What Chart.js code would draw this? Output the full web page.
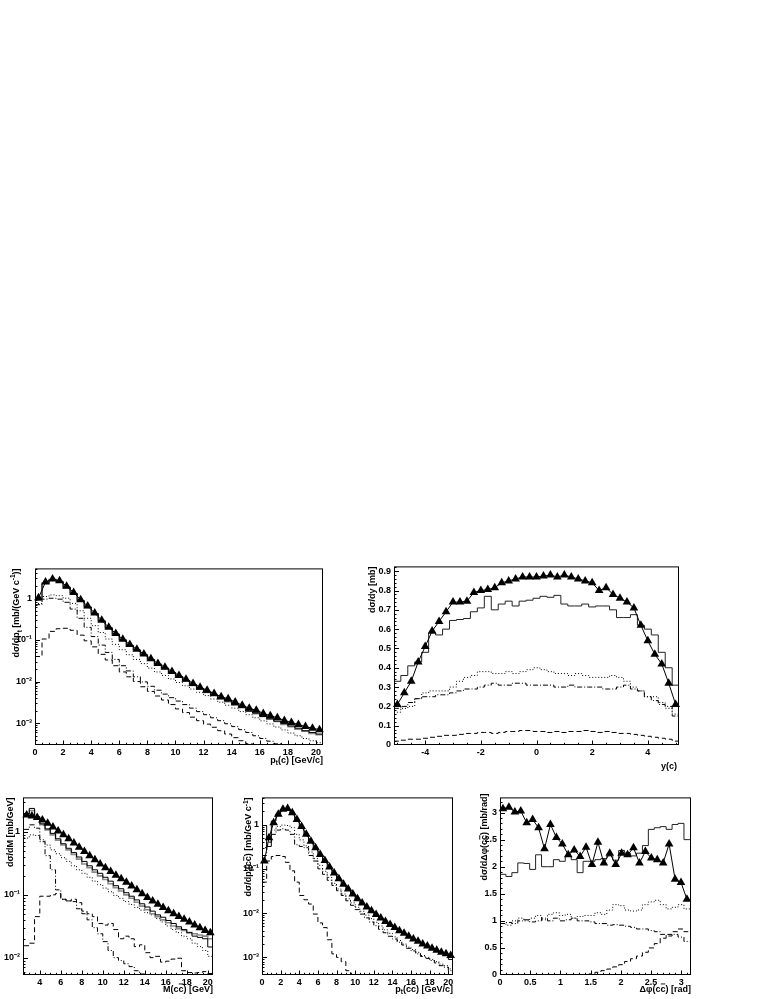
<!DOCTYPE html>
<html><head><meta charset="utf-8">
<script src="https://cdn.jsdelivr.net/npm/chart.js@4.4.1/dist/chart.umd.min.js"></script>
<style>
html,body{margin:0;padding:0;background:#fff;}
body{width:772px;height:999px;position:relative;overflow:hidden;}
canvas{position:absolute;}
</style></head><body>
<canvas id="c1"></canvas><canvas id="c2"></canvas><canvas id="c3"></canvas><canvas id="c4"></canvas><canvas id="c5"></canvas>
<script>
// ---------------- DATA ----------------
// Panel 1: d sigma / d pt(c), bins of 0.5 GeV/c from 0
const p1BinStart = 0, p1BinWidth = 0.5;
const p1Tri = [1.02,2.44,2.90,2.62,1.94,1.37,0.918,0.648,0.441,0.295,0.201,0.142,0.104,0.077,0.0593,0.0457,0.0352,0.0271,0.0220,0.0175,0.0140,0.0113,0.0090,0.0073,0.00615,0.00516,0.00434,0.00384,0.00322,0.00271,0.00228,0.00205,0.00172,0.00152,0.00135,0.00117,0.00104,0.00093,0.00083,0.00076,0.00070];
const p1Solid = [0.92,2.25,2.75,2.5,1.85,1.3,0.88,0.62,0.43,0.285,0.195,0.138,0.1,0.074,0.057,0.044,0.034,0.026,0.021,0.0165,0.0132,0.0106,0.0084,0.0067,0.0056,0.0047,0.0039,0.0034,0.0028,0.0024,0.00195,0.00175,0.00145,0.00128,0.00112,0.00098,0.00086,0.00076,0.00066,0.0006,0.00055];
const p1Grey = [0.9,2.3,2.8,2.45,1.8,1.28,0.86,0.6,0.42,0.28,0.19,0.135,0.098,0.072,0.056,0.043,0.033,0.0255,0.0205,0.016,0.0128,0.0102,0.0081,0.0066,0.0055,0.0046,0.0038,0.0033,0.0027,0.00235,0.00195,0.0017,0.00145,0.00125,0.0011,0.00094,0.00082,0.00072,0.00064,0.00057,0.00053];
const p1Dot = [0.75,1.1,1.2,1.15,1.0,0.75,0.5,0.33,0.22,0.15,0.105,0.078,0.058,0.044,0.034,0.027,0.021,0.017,0.014,0.0115,0.0095,0.0079,0.0066,0.0055,0.0046,0.0038,0.0032,0.0027,0.0023,0.0019,0.0016,0.00135,0.00114,0.00096,0.00081,0.00069,0.00058,0.0005,0.00043,0.00038,0.00034];
const p1DashDot = [0.7,0.95,1.0,0.95,0.8,0.55,0.33,0.2,0.12,0.075,0.05,0.034,0.024,0.018,0.013,0.0098,0.0077,0.0062,0.005,0.0041,0.0034,0.0028,0.0023,0.0019,0.0016,0.00135,0.00115,0.00097,0.00083,0.0007,0.0006,0.0005,0.00043,0.00037,0.00032,0.00028,0.00025,0.00022,0.0002,0.00018,0.00016];
const p1Dash = [0.04,0.105,0.16,0.185,0.19,0.17,0.13,0.095,0.068,0.045,0.033,0.024,0.017,0.013,0.01,0.0075,0.0058,0.0045,0.0036,0.0028,0.0022,0.0018,0.0014,0.00115,0.00095,0.0008,0.00066,0.00055,0.00045,0.00038,0.00032,0.00027,0.00023,0.0002,0.00017,0.00015,0.00013,0.00011,0.0001,0.00009,0.00008];
const p1XTicks = [0,2,4,6,8,10,12,14,16,18,20];
const p1YTicks = [1e-3,1e-2,1e-1,1];

// Panel 2: d sigma / dy, bins of 0.25 from -5.125
const p2BinStart = -5.125, p2BinWidth = 0.25;
const p2Tri = [0.21,0.27,0.33,0.43,0.51,0.59,0.64,0.69,0.74,0.74,0.745,0.79,0.80,0.805,0.815,0.84,0.85,0.86,0.87,0.87,0.87,0.875,0.88,0.87,0.88,0.87,0.86,0.85,0.84,0.80,0.815,0.78,0.76,0.74,0.71,0.62,0.54,0.47,0.42,0.32,0.21];
const p2Solid = [0.33,0.36,0.41,0.43,0.48,0.58,0.57,0.60,0.645,0.65,0.655,0.69,0.71,0.77,0.70,0.73,0.745,0.72,0.745,0.75,0.76,0.77,0.765,0.775,0.73,0.72,0.72,0.73,0.715,0.72,0.72,0.70,0.66,0.66,0.675,0.62,0.60,0.57,0.48,0.40,0.31];
const p2Dot = [0.17,0.19,0.2,0.24,0.27,0.28,0.28,0.28,0.30,0.33,0.35,0.36,0.38,0.38,0.37,0.37,0.38,0.37,0.38,0.39,0.40,0.39,0.38,0.37,0.37,0.36,0.37,0.36,0.35,0.35,0.35,0.36,0.35,0.33,0.30,0.28,0.25,0.25,0.22,0.19,0.16];
const p2DashDot = [0.19,0.2,0.22,0.24,0.25,0.25,0.26,0.26,0.27,0.28,0.29,0.29,0.30,0.31,0.32,0.31,0.31,0.32,0.32,0.31,0.31,0.31,0.31,0.30,0.30,0.31,0.30,0.30,0.30,0.30,0.29,0.29,0.30,0.31,0.29,0.28,0.25,0.23,0.21,0.2,0.15];
const p2Dash = [0.02,0.025,0.03,0.03,0.035,0.04,0.045,0.05,0.05,0.055,0.06,0.06,0.065,0.065,0.06,0.065,0.07,0.07,0.075,0.075,0.07,0.07,0.065,0.07,0.065,0.07,0.07,0.075,0.07,0.065,0.07,0.065,0.06,0.06,0.055,0.05,0.045,0.04,0.035,0.03,0.02];
const p2XTicks = [-4,-2,0,2,4];
const p2YTicks = [0,0.1,0.2,0.3,0.4,0.5,0.6,0.7,0.8,0.9];

// Panel 3: d sigma / dM(c cbar), bins of 0.5 GeV from 2.5
const p3BinStart = 2.5, p3BinWidth = 0.5;
const p3Tri = [1.87,1.8,1.7,1.55,1.38,1.2,1.04,0.9,0.78,0.67,0.57,0.49,0.42,0.36,0.31,0.27,0.235,0.205,0.18,0.158,0.138,0.12,0.104,0.091,0.08,0.071,0.063,0.056,0.05,0.045,0.041,0.037,0.033,0.03,0.027,0.025];
const p3Solid = [1.95,2.37,1.76,1.35,1.12,0.95,0.78,0.65,0.55,0.47,0.4,0.34,0.29,0.25,0.22,0.19,0.165,0.14,0.125,0.108,0.095,0.083,0.072,0.064,0.055,0.048,0.044,0.039,0.035,0.031,0.028,0.025,0.022,0.021,0.02,0.0148];
const p3Grey = [1.8,2.2,1.65,1.3,1.08,0.9,0.74,0.62,0.52,0.44,0.37,0.31,0.27,0.23,0.2,0.175,0.15,0.13,0.115,0.1,0.088,0.076,0.066,0.058,0.05,0.045,0.04,0.036,0.032,0.029,0.027,0.025,0.024,0.023,0.022,0.02];
const p3Dot = [0.8,0.9,0.88,0.75,0.62,0.52,0.45,0.39,0.34,0.29,0.25,0.22,0.19,0.165,0.145,0.128,0.112,0.098,0.088,0.078,0.07,0.063,0.057,0.052,0.048,0.042,0.037,0.032,0.028,0.025,0.022,0.02,0.017,0.015,0.013,0.0105];
const p3DashDot = [1.1,1.3,1.15,0.7,0.42,0.25,0.12,0.085,0.08,0.078,0.06,0.05,0.04,0.03,0.024,0.018,0.013,0.01,0.009,0.008,0.0072,0.0062,0.0055,0.005,0.0046,0.0043,0.004,0.0038,0.0036,0.0034,0.0032,0.003,0.0029,0.0028,0.0027,0.0026];
const p3Dash = [0.0155,0.017,0.045,0.095,0.095,0.1,0.105,0.085,0.08,0.085,0.075,0.055,0.05,0.045,0.035,0.033,0.035,0.028,0.02,0.022,0.02,0.015,0.016,0.012,0.01,0.0105,0.0085,0.0088,0.0095,0.0098,0.0062,0.0058,0.0057,0.0058,0.006,0.0056];
const p3XTicks = [4,6,8,10,12,14,16,18,20];
const p3YTicks = [1e-2,1e-1,1];

// Panel 4: d sigma / d pt(c cbar), bins of 0.5 GeV/c from 0
const p4BinStart = 0, p4BinWidth = 0.5;
const p4Tri = [0.15,0.5,1.1,1.7,2.2,2.3,1.85,1.3,0.9,0.6,0.42,0.3,0.21,0.155,0.11,0.08,0.06,0.045,0.035,0.027,0.021,0.017,0.0138,0.0113,0.0093,0.0078,0.0065,0.0055,0.0047,0.004,0.0035,0.003,0.0026,0.0023,0.002,0.0018,0.0016,0.00145,0.0013,0.0012,0.0011];
const p4Solid = [0.95,0.32,1.2,1.75,2.15,2.2,1.8,1.25,0.86,0.58,0.4,0.29,0.2,0.148,0.105,0.077,0.057,0.043,0.033,0.026,0.02,0.016,0.013,0.0107,0.0088,0.0074,0.0062,0.0052,0.0045,0.0038,0.0033,0.0029,0.0025,0.0022,0.0019,0.0017,0.0015,0.0014,0.00125,0.0012,0.0009];
const p4Dot = [0.3,0.5,0.75,0.9,0.97,0.95,0.85,0.6,0.45,0.33,0.24,0.17,0.12,0.088,0.064,0.047,0.035,0.027,0.021,0.017,0.0135,0.011,0.009,0.0075,0.0062,0.0051,0.0042,0.0035,0.0029,0.0024,0.002,0.0017,0.0015,0.0013,0.0011,0.001,0.0009,0.0008,0.0007,0.00065,0.00055];
const p4DashDot = [0.2,0.4,0.6,0.75,0.8,0.75,0.6,0.35,0.32,0.3,0.2,0.15,0.1,0.075,0.055,0.042,0.032,0.025,0.019,0.015,0.012,0.0095,0.0078,0.0063,0.0052,0.0043,0.0036,0.003,0.0026,0.0022,0.0019,0.0016,0.0014,0.0012,0.00105,0.00095,0.00085,0.00075,0.00065,0.0006,0.0005];
const p4Dash = [0.05,0.15,0.19,0.2,0.19,0.14,0.09,0.05,0.025,0.02,0.016,0.0095,0.006,0.0047,0.0025,0.0012,0.001,0.0008,0.0005,0.0003];
const p4XTicks = [0,2,4,6,8,10,12,14,16,18,20];
const p4YTicks = [1e-3,1e-2,1e-1,1];

// Panel 5: d sigma / d delta-phi(c cbar), 32 bins over [0, pi]
const p5BinStart = 0, p5BinWidth = Math.PI / 32;
const p5Tri = [3.07,3.1,3.01,3.03,2.81,2.87,2.72,2.33,2.78,2.54,2.42,2.22,2.31,2.19,2.36,2.04,2.45,2.07,2.25,2.04,2.25,2.22,2.35,2.07,2.28,2.16,2.13,2.07,2.42,1.77,1.71,1.4];
const p5Solid = [1.86,1.82,1.89,2.07,2.06,1.95,2.22,2.0,2.0,2.13,2.1,2.19,2.13,1.89,2.1,2.1,2.13,2.15,2.2,2.12,2.3,2.25,2.2,2.25,2.39,2.69,2.72,2.74,2.69,2.78,2.8,2.5];
const p5Dot = [0.95,0.92,1.0,1.05,1.0,1.05,1.1,1.02,1.12,1.15,1.1,1.12,1.05,1.08,1.1,1.1,1.15,1.12,1.2,1.3,1.28,1.2,1.18,1.2,1.3,1.35,1.38,1.3,1.22,1.25,1.3,1.22];
const p5DashDot = [0.95,0.97,0.95,1.0,1.02,0.98,1.0,1.05,1.0,1.05,1.0,1.02,1.05,1.0,1.0,0.98,0.95,0.95,0.92,0.93,0.92,0.9,0.88,0.85,0.85,0.82,0.8,0.75,0.72,0.75,0.7,0.62];
const p5Dash = [0,0,0,0,0,0,0,0,0,0,0,0,0,0,0.01,0.02,0.05,0.08,0.11,0.15,0.19,0.25,0.3,0.35,0.42,0.5,0.58,0.68,0.75,0.8,0.85,0.8];
const p5XTicks = [0,0.5,1,1.5,2,2.5,3];
const p5YTicks = [0,0.5,1,1.5,2,2.5,3];

// Axis titles
const p1XTitle = "p_{t}(c) [GeV/c]", p1YTitle = "dσ/dp_{t} [mb/(GeV c^{-1})]";
const p2XTitle = "y(c)", p2YTitle = "dσ/dy [mb]";
const p3XTitle = "M(c#bar{c}) [GeV]", p3YTitle = "dσ/dM [mb/GeV]";
const p4XTitle = "p_{t}(c#bar{c}) [GeV/c]", p4YTitle = "dσ/dp_{t}(c#bar{c}) [mb/GeV c^{-1}]";
const p5XTitle = "Δφ(c#bar{c}) [rad]", p5YTitle = "dσ/dΔφ(c#bar{c}) [mb/rad]";

// ---------------- HELPERS ----------------
const FAM = "'Liberation Sans', Arial, Helvetica, sans-serif";
const DOT = [1, 2], DASHDOT = [5, 2, 1, 2], DASH = [5, 3];

function hist(start, width, vals, color, lw, dash) {
  const pts = vals.map((v, i) => ({ x: start + i * width, y: v }));
  pts.push({ x: start + vals.length * width, y: vals[vals.length - 1] });
  return { data: pts, stepped: true, pointRadius: 0, borderColor: color, borderWidth: lw, borderDash: dash || [], fill: false, tension: 0 };
}
function markers(start, width, vals) {
  return { data: vals.map((v, i) => ({ x: start + (i + 0.5) * width, y: v })), showLine: true, borderColor: '#000', borderWidth: 1,
    pointStyle: 'triangle', pointRadius: 5, pointBackgroundColor: '#000', pointBorderColor: '#000', pointBorderWidth: 0, clip: 7, fill: false, tension: 0 };
}
const SUP = { '-': '⁻', '0': '⁰', '1': '¹', '2': '²', '3': '³', '4': '⁴' };
function logLabel(v) { const e = Math.round(Math.log10(v)); if (e === 0) return '1'; return '10' + String(e).split('').map(c => SUP[c]).join(''); }
function linLabel(v) { return String(Number(v.toFixed(3))); }

function parseRich(s) {
  const out = []; let i = 0, buf = '';
  const push = (t, m) => { if (t) out.push({ t, m }); };
  while (i < s.length) {
    if ((s[i] === '_' || s[i] === '^') && s[i + 1] === '{') { push(buf, ''); buf = ''; const j = s.indexOf('}', i); push(s.slice(i + 2, j), s[i] === '_' ? 'sub' : 'sup'); i = j + 1; }
    else if (s.startsWith('#bar{', i)) { push(buf, ''); buf = ''; const j = s.indexOf('}', i); push(s.slice(i + 5, j), 'bar'); i = j + 1; }
    else { buf += s[i]; i++; }
  }
  push(buf, ''); return out;
}
function drawRich(ctx, s, x, y, align, rot) {
  const segs = parseRich(s); const F = 9, f = 6.5;
  ctx.save(); ctx.translate(x, y); if (rot) ctx.rotate(-Math.PI / 2);
  ctx.textBaseline = 'alphabetic'; ctx.textAlign = 'left'; ctx.fillStyle = '#000';
  let w = 0;
  const ws = segs.map(g => { ctx.font = 'bold ' + ((g.m === 'sub' || g.m === 'sup') ? f : F) + 'px ' + FAM; const m = ctx.measureText(g.t).width; w += m; return m; });
  let cx = align === 'right' ? -w : (align === 'center' ? -w / 2 : 0);
  segs.forEach((g, k) => {
    const small = g.m === 'sub' || g.m === 'sup';
    ctx.font = 'bold ' + (small ? f : F) + 'px ' + FAM;
    const dy = g.m === 'sub' ? 2.5 : (g.m === 'sup' ? -3.8 : 0);
    ctx.fillText(g.t, cx, dy);
    if (g.m === 'bar') ctx.fillRect(cx + 0.3, -8, ws[k] - 0.6, 0.9);
    cx += ws[k];
  });
  ctx.restore();
}

const PANELS = {
  c1: { frame: { l: 35, t: 562, r: 323, b: 745 }, axw: 35, pt: 2, pr: 4, axh: 13, pb: 12,
    xMin: 0, xMax: 20.5, yMin: 3.4e-4, yMax: 5.2, ylog: true, xTicks: p1XTicks, yTicks: p1YTicks, xMinor: 0.5,
    xTitle: p1XTitle, yTitle: p1YTitle, xTitleDy: 17.5, xTitleDx: 0, yTitleDx: 19, yTitleDy: 0,
    datasets: [markers(p1BinStart, p1BinWidth, p1Tri), hist(p1BinStart, p1BinWidth, p1Solid, '#000', 1),
      hist(p1BinStart, p1BinWidth, p1Grey, '#8a8a8a', 1.6), hist(p1BinStart, p1BinWidth, p1Dot, '#000', 1, DOT),
      hist(p1BinStart, p1BinWidth, p1DashDot, '#000', 1, DASHDOT), hist(p1BinStart, p1BinWidth, p1Dash, '#000', 1, DASH)] },
  c2: { frame: { l: 394, t: 560, r: 679, b: 745 }, axw: 39, pt: 2, pr: 4, axh: 13, pb: 17,
    xMin: -5.12, xMax: 5.12, yMin: 0, yMax: 0.925, ylog: false, xTicks: p2XTicks, yTicks: p2YTicks, xMinor: 0.5, yMinor: 0.02,
    xTitle: p2XTitle, yTitle: p2YTitle, xTitleDy: 24, xTitleDx: -2, yTitleDx: 22, yTitleDy: 0,
    datasets: [markers(p2BinStart, p2BinWidth, p2Tri), hist(p2BinStart, p2BinWidth, p2Solid, '#222', 1),
      hist(p2BinStart, p2BinWidth, p2Dot, '#000', 1, DOT), hist(p2BinStart, p2BinWidth, p2DashDot, '#000', 1, DASHDOT),
      hist(p2BinStart, p2BinWidth, p2Dash, '#000', 1, DASH)] },
  c3: { frame: { l: 23, t: 791, r: 213, b: 975 }, axw: 23, pt: 2, pr: 4, axh: 13, pb: 11,
    xMin: 2.4, xMax: 20.5, yMin: 5.3e-3, yMax: 3.55, ylog: true, xTicks: p3XTicks, yTicks: p3YTicks, xMinor: 0.5,
    xTitle: p3XTitle, yTitle: p3YTitle, xTitleDy: 16.5, xTitleDx: 0, yTitleDx: 13, yTitleDy: 0,
    datasets: [markers(p3BinStart, p3BinWidth, p3Tri), hist(p3BinStart, p3BinWidth, p3Solid, '#000', 1),
      hist(p3BinStart, p3BinWidth, p3Grey, '#8a8a8a', 1.6), hist(p3BinStart, p3BinWidth, p3Dot, '#000', 1, DOT),
      hist(p3BinStart, p3BinWidth, p3DashDot, '#000', 1, DASHDOT), hist(p3BinStart, p3BinWidth, p3Dash, '#000', 1, DASH)] },
  c4: { frame: { l: 262, t: 791, r: 453, b: 975 }, axw: 22, pt: 2, pr: 4, axh: 13, pb: 11,
    xMin: 0, xMax: 20.5, yMin: 4.0e-4, yMax: 4.1, ylog: true, xTicks: p4XTicks, yTicks: p4YTicks, xMinor: 0.5,
    xTitle: p4XTitle, yTitle: p4YTitle, xTitleDy: 16.5, xTitleDx: 0, yTitleDx: 14, yTitleDy: 0,
    datasets: [markers(p4BinStart, p4BinWidth, p4Tri), hist(p4BinStart, p4BinWidth, p4Solid, '#000', 1),
      hist(p4BinStart, p4BinWidth, p4Dot, '#000', 1, DOT), hist(p4BinStart, p4BinWidth, p4DashDot, '#000', 1, DASHDOT),
      hist(p4BinStart, p4BinWidth, p4Dash, '#000', 1, DASH)] },
  c5: { frame: { l: 500, t: 790, r: 691, b: 975 }, axw: 30, pt: 1, pr: 4, axh: 13, pb: 11,
    xMin: 0, xMax: 3.16, yMin: 0, yMax: 3.28, ylog: false, xTicks: p5XTicks, yTicks: p5YTicks, xMinor: 0.1, yMinor: 0.1,
    xTitle: p5XTitle, yTitle: p5YTitle, xTitleDy: 16.5, xTitleDx: 0, yTitleDx: 16, yTitleDy: -4,
    datasets: [markers(p5BinStart, p5BinWidth, p5Tri), hist(p5BinStart, p5BinWidth, p5Solid, '#222', 1),
      hist(p5BinStart, p5BinWidth, p5Dot, '#000', 1, DOT), hist(p5BinStart, p5BinWidth, p5DashDot, '#000', 1, DASHDOT),
      hist(p5BinStart, p5BinWidth, p5Dash, '#000', 1, DASH)] }
};

const rootFrame = {
  id: 'rootFrame',
  afterDatasetsDraw(chart) {
    const P = PANELS[chart.canvas.id];
    const ctx = chart.ctx, a = chart.chartArea, xs = chart.scales.x, ys = chart.scales.y;
    ctx.save();
    ctx.strokeStyle = '#000'; ctx.lineWidth = 1; ctx.setLineDash([]);
    ctx.beginPath();
    const LX = 4.5, lx = 2.2, LY = 5, ly = 2.5;
    const n0 = Math.ceil(P.xMin / P.xMinor - 1e-6), n1 = Math.floor(P.xMax / P.xMinor + 1e-6);
    for (let k = n0; k <= n1; k++) {
      const v = k * P.xMinor; const major = P.xTicks.some(t => Math.abs(t - v) < 1e-6);
      const px = Math.round(xs.getPixelForValue(v)) + 0.5;
      if (px <= a.left + 0.6 || px >= a.right - 0.6) continue;
      ctx.moveTo(px, a.bottom); ctx.lineTo(px, a.bottom - (major ? LX : lx));
    }
    const yt = (v, len) => { const py = Math.round(ys.getPixelForValue(v)) + 0.5; if (py < a.top + 0.6 || py > a.bottom - 0.6) return; ctx.moveTo(a.left, py); ctx.lineTo(a.left + len, py); };
    if (P.ylog) {
      for (let d = Math.floor(Math.log10(P.yMin)); d <= Math.ceil(Math.log10(P.yMax)); d++) {
        for (let m = 1; m <= 9; m++) { const v = m * Math.pow(10, d); if (v >= P.yMin && v <= P.yMax) yt(v, m === 1 ? LY : ly); }
      }
    } else {
      const m0 = Math.ceil(P.yMin / P.yMinor - 1e-6), m1 = Math.floor(P.yMax / P.yMinor + 1e-6);
      for (let k = m0; k <= m1; k++) { const v = k * P.yMinor; const major = P.yTicks.some(t => Math.abs(t - v) < 1e-6); yt(v, major ? LY : ly); }
    }
    ctx.stroke();
    ctx.strokeRect(a.left + 0.5, a.top + 0.5, a.right - a.left - 1, a.bottom - a.top - 1);
    ctx.restore();
  },
  afterDraw(chart) {
    const P = PANELS[chart.canvas.id];
    const ctx = chart.ctx, a = chart.chartArea;
    drawRich(ctx, P.xTitle, a.right + P.xTitleDx, a.bottom + P.xTitleDy, 'right', false);
    drawRich(ctx, P.yTitle, a.left - P.yTitleDx + 3.3, a.top + P.yTitleDy, 'right', true);
  }
};

function makePanel(id) {
  const P = PANELS[id];
  const cv = document.getElementById(id);
  const W = P.frame.r - P.frame.l + P.axw + P.pr;
  const H = P.frame.b - P.frame.t + P.pt + P.axh + P.pb;
  cv.width = W; cv.height = H;
  cv.style.width = W + 'px'; cv.style.height = H + 'px';
  cv.style.left = (P.frame.l - P.axw) + 'px';
  cv.style.top = (P.frame.t - P.pt) + 'px';
  const tickFont = { family: FAM, size: 9, weight: 'bold' };
  new Chart(cv, {
    type: 'line',
    data: { datasets: P.datasets },
    options: {
      responsive: false, animation: false, devicePixelRatio: 1, events: [],
      layout: { padding: { left: 0, top: P.pt, right: P.pr, bottom: P.pb }, autoPadding: false },
      plugins: { legend: { display: false }, tooltip: { enabled: false } },
      scales: {
        x: { type: 'linear', min: P.xMin, max: P.xMax,
          afterBuildTicks: s => { s.ticks = P.xTicks.map(v => ({ value: v })); },
          afterFit: s => { s.height = P.axh; },
          ticks: { font: tickFont, color: '#000', padding: 2, maxRotation: 0, minRotation: 0, autoSkip: false, callback: v => linLabel(v) },
          grid: { display: false, drawTicks: false }, border: { display: false } },
        y: { type: P.ylog ? 'logarithmic' : 'linear', min: P.yMin, max: P.yMax,
          afterBuildTicks: s => { s.ticks = P.yTicks.map(v => ({ value: v })); },
          afterFit: s => { s.width = P.axw; },
          ticks: { font: tickFont, color: '#000', padding: 3, autoSkip: false, callback: v => (P.ylog ? logLabel(v) : linLabel(v)) },
          grid: { display: false, drawTicks: false }, border: { display: false } }
      }
    },
    plugins: [rootFrame]
  });
}
['c1', 'c2', 'c3', 'c4', 'c5'].forEach(makePanel);
</script>
</body></html>
